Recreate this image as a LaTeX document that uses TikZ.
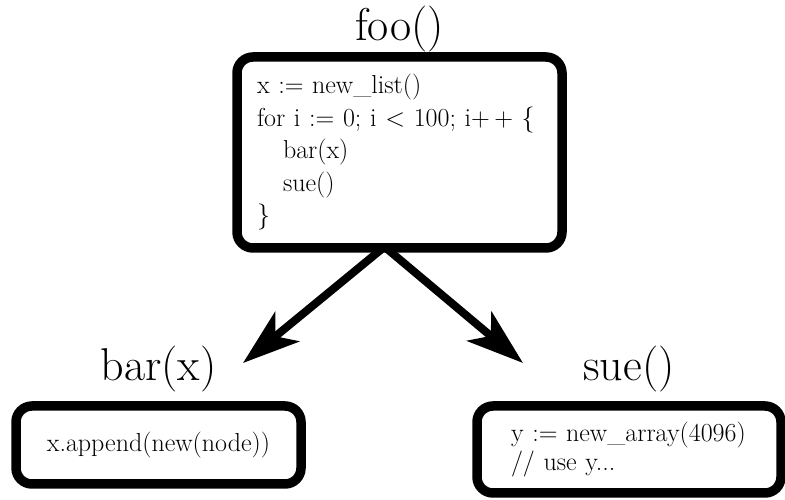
\documentclass[tikz,border=0pt]{standalone}
\usetikzlibrary{arrows.meta,positioning}

\begin{document}
\begin{tikzpicture}[x=1pt,y=1pt,
	box/.style={draw,line width=9.5pt,rounded corners=16pt,font=\fontsize{26}{32.5}\selectfont},
	fname/.style={inner sep=0pt,font=\fontsize{46}{50}\selectfont},
	call/.style={line width=8pt,-{Stealth[length=57pt,width=38pt,inset=15pt]}}]

	\useasboundingbox (0,0) rectangle (785,500);
	\clip (0,0) rectangle (785,500);

	\node[box, align=left, text width=285pt, inner xsep=20pt, minimum height=191pt] (foo) at (399.5,347.5) {x := new\_list()\\for i := 0; i < 100; i+\,+ \{\\\hspace*{1em}bar(x)\\\hspace*{1em}sue()\\\}};
	\node[fname] (footitle) [above=0pt of foo] {foo()};

	\node[box, align=center, minimum width=285pt, minimum height=78pt] (bar) at (158.5,55) {x.append(new(node))};
	\node[fname] (bartitle) [above=9pt of bar] {bar(x)};

	\node[box, align=left, text width=236pt, inner xsep=34pt, minimum height=87pt] (sue) at (629,50.5) {y := new\_array(4096)\\[-4pt]// use y...};
	\node[fname] (suetitle) [above=9pt of sue] {sue()};

	\coordinate (fork) at ([xshift=-15pt,yshift=6pt]foo.south);
	\coordinate (bartip) at (243,137);
	\coordinate (suetip) at (523,137);
	\path[call] (fork) edge (bartip);
	\path[call] (fork) edge (suetip);

\end{tikzpicture}
\end{document}
